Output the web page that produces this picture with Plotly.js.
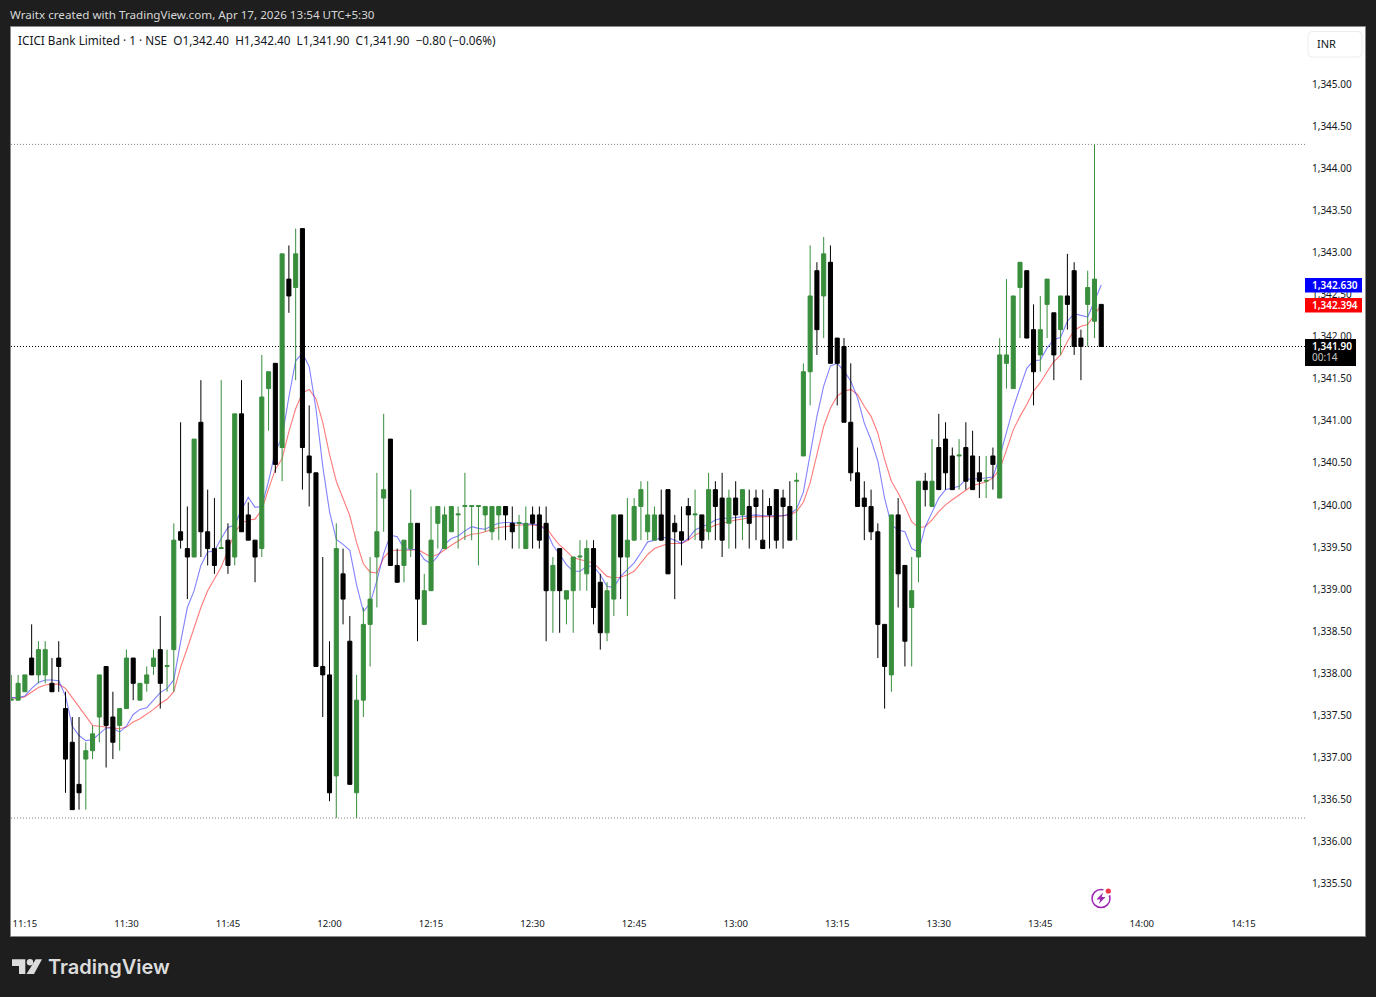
<!DOCTYPE html>
<html>
<head>
<meta charset="utf-8">
<script src="https://cdn.plot.ly/plotly-3.0.1.min.js"></script>
<style>html,body{margin:0;padding:0;background:#1e1e1e;overflow:hidden}#chart{width:1376px;height:997px}</style>
</head>
<body>
<div id="chart"></div>
<script>
const times = [
"11:13","11:14","11:15","11:16","11:17","11:18","11:19","11:20","11:21","11:22","11:23","11:24","11:25","11:26","11:27","11:28","11:29",
"11:30","11:31","11:32","11:33","11:34","11:35","11:36","11:37","11:38","11:39","11:40","11:41","11:42","11:43","11:44",
"11:45","11:46","11:47","11:48","11:49","11:50","11:51","11:52","11:53","11:54","11:55","11:56","11:57","11:58","11:59",
"12:00","12:01","12:02","12:03","12:04","12:05","12:06","12:07","12:08","12:09","12:10","12:11","12:12","12:13","12:14",
"12:15","12:16","12:17","12:18","12:19","12:20","12:21","12:22","12:23","12:24","12:25","12:26","12:27","12:28","12:29",
"12:30","12:31","12:32","12:33","12:34","12:35","12:36","12:37","12:38","12:39","12:40","12:41","12:42","12:43","12:44",
"12:45","12:46","12:47","12:48","12:49","12:50","12:51","12:52","12:53","12:54","12:55","12:56","12:57","12:58","12:59",
"13:00","13:01","13:02","13:03","13:04","13:05","13:06","13:07","13:08","13:09","13:10","13:11","13:12","13:13","13:14",
"13:15","13:16","13:17","13:18","13:19","13:20","13:21","13:22","13:23","13:24","13:25","13:26","13:27","13:28","13:29",
"13:30","13:31","13:32","13:33","13:34","13:35","13:36","13:37","13:38","13:39","13:40","13:41","13:42","13:43","13:44",
"13:45","13:46","13:47","13:48","13:49","13:50","13:51","13:52","13:53","13:54"];
const opens = [
1337.70,1337.70,1337.80,1338.20,1338.00,1338.00,1337.90,1338.20,1337.60,1337.20,
1336.70,1337.00,1337.10,1337.50,1338.10,1337.50,1337.40,1337.60,1338.20,1337.70,
1337.90,1338.10,1338.30,1338.10,1338.30,1339.70,1339.50,1339.40,1341.00,1339.70,
1339.50,1339.50,1339.60,1339.40,1341.10,1339.90,1339.60,1339.50,1341.40,1341.70,
1340.70,1342.70,1342.60,1343.30,1340.60,1340.40,1338.10,1338.00,1336.80,1339.20,
1338.40,1336.60,1337.70,1338.60,1339.40,1340.10,1340.80,1339.30,1339.30,1339.50,
1339.80,1338.60,1339.00,1339.80,1339.50,1339.70,1339.90,1340.00,1340.00,1340.00,
1339.90,1339.70,1339.90,1340.00,1339.80,1339.80,1339.50,1339.90,1339.90,1339.80,
1339.00,1339.50,1338.90,1339.00,1339.40,1339.20,1339.50,1339.10,1338.50,1338.90,
1339.90,1339.40,1339.60,1340.00,1339.70,1339.60,1339.90,1340.20,1339.80,1339.70,
1340.00,1339.90,1339.90,1339.70,1340.20,1340.10,1339.80,1340.10,1339.90,1340.00,
1340.10,1339.60,1340.00,1340.20,1340.10,1340.00,1340.30,1340.60,1341.60,1342.80,
1342.50,1342.90,1342.00,1341.90,1341.00,1340.40,1340.10,1340.00,1339.70,1338.60,
1338.00,1339.90,1339.30,1338.80,1339.40,1340.30,1340.00,1340.70,1340.80,1340.60,
1340.60,1340.70,1340.60,1340.40,1340.30,1340.60,1340.10,1341.70,1341.40,1342.60,
1342.80,1342.10,1341.80,1342.40,1342.30,1342.10,1342.50,1342.80,1342.00,1342.40,
1342.20,1342.40];
const highs = [
1338.00,1338.00,1338.00,1338.60,1338.40,1338.40,1338.20,1338.40,1337.80,1337.50,
1337.50,1337.20,1337.40,1338.00,1338.10,1337.80,1337.60,1338.30,1338.20,1337.90,
1338.10,1338.30,1338.70,1338.30,1339.80,1341.00,1340.00,1340.80,1341.50,1340.20,
1340.10,1341.50,1339.80,1341.10,1341.50,1340.05,1339.60,1341.80,1341.60,1341.70,
1343.00,1343.10,1343.30,1343.30,1341.20,1340.40,1339.40,1338.40,1339.80,1339.50,
1338.70,1338.00,1338.80,1339.40,1340.40,1341.10,1340.80,1339.50,1339.60,1340.20,
1339.80,1339.20,1340.00,1340.00,1340.00,1340.00,1340.00,1340.40,1340.00,1340.00,
1340.00,1340.00,1340.00,1340.00,1340.00,1339.90,1340.00,1340.00,1340.00,1340.00,
1339.40,1339.50,1339.00,1339.40,1339.60,1339.60,1339.60,1339.20,1339.10,1339.90,
1339.90,1340.10,1340.10,1340.30,1340.30,1340.00,1340.20,1340.20,1339.90,1340.00,
1340.10,1340.20,1339.90,1340.40,1340.30,1340.40,1340.20,1340.30,1340.20,1340.20,
1340.20,1340.20,1340.10,1340.20,1340.20,1340.30,1340.40,1341.70,1343.10,1342.90,
1343.20,1343.10,1342.00,1342.00,1341.70,1340.70,1340.30,1340.20,1339.80,1338.60,
1339.90,1340.10,1339.30,1339.40,1340.30,1340.40,1340.80,1341.10,1341.00,1340.70,
1340.80,1341.00,1340.90,1340.60,1340.60,1340.70,1342.00,1342.70,1342.50,1342.90,
1342.80,1342.40,1342.50,1342.70,1342.30,1342.50,1343.00,1342.90,1342.10,1342.80,
1344.30,1342.40];
const lows = [
1337.70,1337.70,1337.80,1338.00,1337.90,1337.90,1337.80,1337.80,1336.60,1336.40,
1336.40,1336.40,1337.00,1337.20,1336.90,1337.00,1337.10,1337.60,1337.70,1337.70,
1337.80,1338.00,1337.60,1337.80,1337.80,1339.50,1338.90,1339.40,1339.40,1339.30,
1339.20,1339.50,1339.20,1339.30,1339.70,1339.60,1339.10,1339.40,1340.90,1340.40,
1340.30,1342.30,1341.50,1340.20,1340.00,1338.10,1337.50,1336.50,1336.30,1338.60,
1336.70,1336.30,1337.50,1338.10,1338.80,1339.70,1339.30,1339.10,1339.10,1339.40,
1338.40,1338.60,1339.00,1339.50,1339.50,1339.70,1339.50,1339.60,1339.60,1339.30,
1339.70,1339.60,1339.60,1339.60,1339.50,1339.50,1339.50,1339.50,1339.50,1338.40,
1338.50,1338.50,1338.60,1338.50,1339.00,1339.00,1338.60,1338.30,1338.40,1338.70,
1338.90,1338.70,1339.60,1339.60,1339.60,1339.60,1339.60,1339.20,1338.90,1339.30,
1339.60,1339.60,1339.50,1339.60,1339.60,1339.40,1339.50,1339.50,1339.60,1339.50,
1339.60,1339.50,1339.50,1339.50,1339.50,1339.60,1339.60,1340.60,1341.20,1341.80,
1342.00,1341.70,1341.20,1341.00,1340.30,1340.00,1339.60,1339.60,1338.20,1337.60,
1337.80,1338.80,1338.10,1338.10,1339.10,1340.00,1340.00,1340.20,1340.20,1340.20,
1340.20,1340.20,1340.20,1340.10,1340.10,1340.20,1340.10,1341.40,1341.40,1342.00,
1342.00,1341.20,1341.60,1342.00,1341.50,1341.80,1342.10,1341.80,1341.50,1341.90,
1342.00,1341.90];
const closes = [
1337.71,1337.90,1338.00,1338.00,1338.30,1338.30,1337.80,1338.10,1337.00,1336.40,
1336.60,1337.10,1337.30,1338.00,1337.40,1337.20,1337.60,1338.20,1337.90,1337.90,
1338.00,1338.20,1337.90,1338.11,1339.60,1339.60,1339.40,1340.80,1339.70,1339.50,
1339.30,1339.51,1339.30,1341.10,1339.70,1339.60,1339.40,1341.30,1341.60,1340.50,
1343.00,1342.50,1343.00,1340.70,1340.40,1338.10,1338.00,1336.60,1339.50,1338.90,
1336.70,1337.70,1338.60,1338.90,1339.70,1340.20,1339.30,1339.10,1339.60,1339.80,
1338.90,1339.00,1339.60,1340.00,1339.90,1340.00,1339.91,1340.01,1340.01,1340.01,
1340.00,1340.00,1340.00,1339.90,1339.70,1339.81,1339.80,1339.80,1339.60,1339.00,
1339.30,1339.00,1339.00,1339.40,1339.41,1339.50,1338.80,1338.50,1339.00,1339.90,
1339.40,1339.60,1340.00,1340.20,1339.90,1339.90,1339.60,1339.20,1339.70,1339.60,
1339.90,1339.91,1339.60,1340.20,1340.00,1339.60,1340.10,1339.90,1340.20,1339.80,
1340.00,1339.50,1339.90,1339.60,1340.00,1339.60,1340.31,1341.60,1342.50,1342.10,
1343.00,1341.70,1341.70,1341.00,1340.40,1340.00,1340.00,1339.70,1338.60,1338.10,
1339.90,1339.20,1338.40,1339.00,1340.30,1340.20,1340.30,1340.20,1340.40,1340.20,
1340.61,1340.30,1340.20,1340.30,1340.31,1340.50,1341.80,1341.80,1342.50,1342.90,
1342.00,1341.60,1342.10,1342.70,1341.80,1342.50,1342.40,1341.90,1341.90,1342.60,
1342.70,1341.90];
const fastMA = [
1337.73,1337.73,1337.75,1337.84,1337.91,1337.94,1337.94,1337.93,1337.75,1337.39,
1337.28,1337.22,1337.23,1337.30,1337.37,1337.37,1337.32,1337.39,1337.53,1337.59,
1337.61,1337.70,1337.79,1337.84,1337.94,1338.39,1338.80,1339.00,1339.30,1339.46,
1339.47,1339.62,1339.75,1339.78,1339.96,1340.11,1339.99,1340.00,1340.30,1340.66,
1340.82,1341.30,1341.73,1341.82,1341.66,1341.16,1340.48,1339.94,1339.61,1339.55,
1339.48,1339.07,1338.75,1338.85,1339.12,1339.44,1339.66,1339.64,1339.50,1339.49,
1339.49,1339.37,1339.32,1339.41,1339.55,1339.62,1339.65,1339.71,1339.76,1339.74,
1339.73,1339.77,1339.80,1339.81,1339.81,1339.80,1339.79,1339.79,1339.78,1339.72,
1339.54,1339.43,1339.31,1339.23,1339.23,1339.29,1339.29,1339.19,1339.05,1339.04,
1339.17,1339.25,1339.33,1339.45,1339.58,1339.60,1339.63,1339.63,1339.60,1339.56,
1339.62,1339.72,1339.76,1339.79,1339.84,1339.86,1339.86,1339.87,1339.88,1339.89,
1339.90,1339.89,1339.89,1339.89,1339.89,1339.91,1339.97,1340.17,1340.60,1341.07,
1341.43,1341.67,1341.70,1341.61,1341.49,1341.29,1340.99,1340.79,1340.54,1340.10,
1339.78,1339.72,1339.70,1339.50,1339.46,1339.76,1339.93,1340.10,1340.20,1340.22,
1340.24,1340.32,1340.33,1340.33,1340.34,1340.35,1340.59,1340.89,1341.17,1341.41,
1341.64,1341.73,1341.74,1341.88,1341.98,1342.01,1342.20,1342.29,1342.27,1342.25,
1342.44,1342.63];
const slowMA = [
1337.73,1337.72,1337.74,1337.79,1337.85,1337.88,1337.89,1337.89,1337.84,1337.73,
1337.62,1337.50,1337.40,1337.39,1337.38,1337.37,1337.36,1337.38,1337.44,1337.48,
1337.53,1337.59,1337.66,1337.71,1337.80,1338.09,1338.32,1338.55,1338.80,1339.00,
1339.14,1339.28,1339.48,1339.69,1339.80,1339.84,1339.85,1339.96,1340.21,1340.44,
1340.57,1340.89,1341.16,1341.35,1341.39,1341.28,1341.00,1340.62,1340.30,1340.09,
1339.89,1339.57,1339.32,1339.22,1339.21,1339.39,1339.48,1339.48,1339.48,1339.48,
1339.49,1339.44,1339.40,1339.43,1339.49,1339.54,1339.59,1339.64,1339.67,1339.68,
1339.70,1339.73,1339.75,1339.76,1339.77,1339.78,1339.78,1339.78,1339.77,1339.75,
1339.64,1339.54,1339.47,1339.39,1339.37,1339.35,1339.33,1339.25,1339.17,1339.15,
1339.16,1339.19,1339.23,1339.33,1339.43,1339.50,1339.53,1339.56,1339.56,1339.56,
1339.60,1339.66,1339.70,1339.74,1339.78,1339.80,1339.82,1339.84,1339.85,1339.87,
1339.88,1339.88,1339.88,1339.88,1339.89,1339.90,1339.94,1340.05,1340.28,1340.63,
1340.95,1341.17,1341.31,1341.37,1341.39,1341.33,1341.19,1341.07,1340.87,1340.56,
1340.30,1340.16,1340.00,1339.82,1339.75,1339.76,1339.84,1339.94,1340.02,1340.08,
1340.14,1340.20,1340.25,1340.27,1340.29,1340.34,1340.44,1340.67,1340.91,1341.07,
1341.21,1341.37,1341.47,1341.60,1341.72,1341.80,1341.96,1342.09,1342.14,1342.16,
1342.28,1342.394];

const sessionDate = "2026-04-17 ";
const sessionHigh = 1344.30, sessionLow = 1336.30, lastPrice = 1341.90;
const headerText = "Wraitx created with TradingView.com, Apr 17, 2026 13:54 UTC+5:30";
const legendText = "ICICI Bank Limited · 1 · NSE  O1,342.40  H1,342.40  L1,341.90  C1,341.90  −0.80 (−0.06%)";
const fastLabel = "1,342.630", slowLabel = "1,342.394", lastLabel = "1,341.90", countdown = "00:14";

const GREEN = "#388e3c", BLACK = "#000000";
const L = 11, R = 1305, T = 27, B = 909, W = 1376, H = 997;
const px = x => (x - L) / (R - L);
const py = y => (B - y) / (B - T);
const xs = times.map(t => sessionDate + t);
const xRange = ["2026-04-17 11:12:57", "2026-04-17 14:24:06"];
const yRange = [1335.197, 1345.6836];
const dataRange = [1335.220, 1345.694];
const UI = '"Noto Sans", "Open Sans", sans-serif';

function rect(x0, y0, x1, y1, fill, extra) {
  return Object.assign({type:"rect", xref:"paper", yref:"paper", x0:px(x0), x1:px(x1), y0:py(y0), y1:py(y1),
    fillcolor:fill, line:{width:0}, layer:"above"}, extra || {});
}
function poly(points, fill, layer) {
  const d = points.map((p, i) => (i ? "L" : "M") + px(p[0]) + "," + py(p[1])).join(" ") + " Z";
  return {type:"path", xref:"paper", yref:"paper", path:d, fillcolor:fill, line:{width:0}, layer:layer || "above"};
}
function circle(cx, cy, r, fill, lineColor, lw) {
  return {type:"circle", xref:"paper", yref:"paper", x0:px(cx-r), x1:px(cx+r), y0:py(cy+r), y1:py(cy-r),
    fillcolor:fill, line:{color:lineColor || fill, width:lw === undefined ? 0 : lw}, layer:"above"};
}
function label(x, y, text, size, color, extra) {
  return Object.assign({xref:"paper", yref:"paper", x:px(x), y:py(y), text:text, showarrow:false,
    xanchor:"left", yanchor:"middle", borderpad:0, font:{family:UI, size:size, color:color}}, extra || {});
}
function hline(v, color) {
  return {type:"line", xref:"paper", yref:"y3", x0:0, x1:1, y0:v, y1:v, layer:"below",
    line:{color:color, width:1, dash:"1px,2px"}};
}

const traces = [
  {type:"scatter", mode:"lines", x:xs, y:closes, xaxis:"x", yaxis:"y", hoverinfo:"skip",
   line:{color:"rgba(0,0,0,0)", width:0}},
  {type:"scatter", mode:"lines", x:xs, y:slowMA, xaxis:"x", yaxis:"y3", hoverinfo:"skip",
   line:{color:"rgba(255,40,40,0.62)", width:1.1}},
  {type:"scatter", mode:"lines", x:xs, y:fastMA, xaxis:"x", yaxis:"y3", hoverinfo:"skip",
   line:{color:"rgba(40,40,255,0.58)", width:1.1}},
  {type:"candlestick", x:xs, open:opens, high:highs, low:lows, close:closes, xaxis:"x2", yaxis:"y2",
   whiskerwidth:0,
   increasing:{line:{color:GREEN, width:1}, fillcolor:GREEN},
   decreasing:{line:{color:BLACK, width:1}, fillcolor:BLACK}}
];

const shapes = [
  rect(10.5, 26.5, 1365.5, 936.5, "#ffffff", {layer:"below", line:{color:"#8a8a8a", width:1}}),
  hline(sessionHigh, "#808080"), hline(sessionLow, "#808080"), hline(lastPrice, "#000000"),
  {type:"path", xref:"paper", yref:"paper", layer:"above", fillcolor:"#ffffff", line:{color:"#ececec", width:1},
   path:"M"+px(1312)+","+py(31.5)+" L"+px(1358)+","+py(31.5)+" Q"+px(1362)+","+py(31.5)+" "+px(1362)+","+py(35.5)+
        " L"+px(1362)+","+py(53)+" Q"+px(1362)+","+py(57)+" "+px(1358)+","+py(57)+" L"+px(1312)+","+py(57)+
        " Q"+px(1308)+","+py(57)+" "+px(1308)+","+py(53)+" L"+px(1308)+","+py(35.5)+" Q"+px(1308)+","+py(31.5)+" "+px(1312)+","+py(31.5)+" Z"},
  rect(1305, 278, 1362, 292.5, "#0000ff"),
  rect(1305, 298, 1362, 312.5, "#ff0000"),
  rect(1305, 339, 1356, 366, "#000000"),
  circle(1101, 898.5, 9, "rgba(0,0,0,0)", "#9c27b0", 1.5),
  circle(1107, 892, 4, "#ffffff"),
  circle(1108.3, 891, 2.6, "#f23645"),
  poly([[1103,892.5],[1096.5,899.5],[1100.3,899.5],[1098.8,904],[1105.5,897],[1101.7,897]], "#9c27b0"),
  poly([[12,959.3],[25.3,959.3],[25.3,974],[19,974],[19,966],[12,966]], "#dcdcdc"),
  circle(30, 962.3, 3.2, "#dcdcdc"),
  poly([[35.7,959.3],[42,959.3],[34,974],[26.5,974]], "#dcdcdc")
];

const annotations = [
  label(9, 14, headerText, 11.65, "#d6d6d6"),
  label(17, 40.5, legendText, 11.75, "#131722"),
  label(1316, 44, "INR", 11, "#131722"),
  label(1310.5, 285, fastLabel, 10, "#ffffff", {font:{family:UI, size:10, color:"#ffffff", weight:600}}),
  label(1310.5, 305, slowLabel, 10, "#ffffff", {font:{family:UI, size:10, color:"#ffffff", weight:600}}),
  label(1310.5, 346, lastLabel, 10, "#ffffff", {font:{family:UI, size:10, color:"#ffffff", weight:600}}),
  label(1310.5, 357.5, countdown, 10, "#c8c8c8"),
  label(46.5, 967, "TradingView", 21, "#dcdcdc", {font:{family:"Inter, Roboto, sans-serif", size:20, color:"#dcdcdc", weight:600}})
];

const layout = {
  width:W, height:H, autosize:false, showlegend:false, hovermode:false, dragmode:false,
  margin:{l:L, r:W-R, t:T, b:H-B, pad:0},
  paper_bgcolor:"#1e1e1e", plot_bgcolor:"#ffffff",
  boxgap:0.4, boxgroupgap:0,
  xaxis:{type:"date", range:xRange, showgrid:false, zeroline:false, showline:false, ticks:"outside", ticklen:5,
    tickcolor:"rgba(0,0,0,0)", tick0:"2026-04-17 11:15", dtick:900000, tickformat:"%H:%M",
    tickfont:{family:UI, size:9.6, color:"#131722"}, rangeslider:{visible:false}, fixedrange:true},
  yaxis:{side:"right", range:yRange, showgrid:false, zeroline:false, showline:false, ticks:"outside", ticklen:4,
    tickcolor:"rgba(0,0,0,0)", tick0:1335, dtick:0.5, tickformat:",.2f",
    tickfont:{family:UI, size:10, color:"#131722"}, fixedrange:true},
  yaxis3:{range:dataRange, overlaying:"y", side:"right", visible:false, fixedrange:true},
  xaxis2:{type:"date", range:xRange, overlaying:"x", visible:false, rangeslider:{visible:false}, fixedrange:true},
  yaxis2:{range:dataRange, overlaying:"y", side:"right", visible:false, fixedrange:true},
  shapes:shapes, annotations:annotations
};
Plotly.newPlot("chart", traces, layout, {displayModeBar:false, staticPlot:true});
</script>
</body>
</html>
